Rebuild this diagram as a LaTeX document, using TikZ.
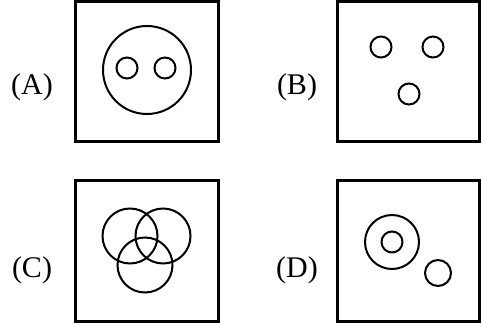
\documentclass[tikz,border=0pt]{standalone}
\usepackage{fontspec}
\setmainfont{Liberation Serif}
\usepackage{tikz}
\tikzstyle{frame} = [draw=black, line width=3pt]
\tikzstyle{ring}  = [draw=black, line width=2pt]
\tikzstyle{tag}   = [font=\fontsize{30}{32}\selectfont, inner sep=0pt]

\begin{document}
\begin{tikzpicture}[x=1pt, y=-1pt]
    \useasboundingbox (0,0) rectangle (482,326);
    % labels
    \node (labA) [tag] at (32,87)  {(A)};
    \node (labB) [tag] at (297,87) {(B)};
    \node (labC) [tag] at (32,270) {(C)};
    \node (labD) [tag] at (297,270) {(D)};

    % frames
    \draw [frame] (75,2)    rectangle (218,142);
    \draw [frame] (337,2)   rectangle (479,142);
    \draw [frame] (75,180)  rectangle (218,321);
    \draw [frame] (337,180) rectangle (479,321);

    % A
    \draw [ring] (147,70) circle (44pt);
    \draw [ring] (127,68) circle (10.5pt);
    \draw [ring] (165,68) circle (10.5pt);
    % B
    \draw [ring] (381,47) circle (10.5pt);
    \draw [ring] (433,47) circle (10.5pt);
    \draw [ring] (409,94) circle (10.5pt);
    % C
    \draw [ring] (130,236) circle (27.5pt);
    \draw [ring] (163,236) circle (27.5pt);
    \draw [ring] (145,265) circle (27.5pt);
    % D
    \draw [ring] (392,242) circle (27pt);
    \draw [ring] (392,242) circle (10.5pt);
    \draw [ring] (438,273) circle (13pt);
\end{tikzpicture}
\end{document}
